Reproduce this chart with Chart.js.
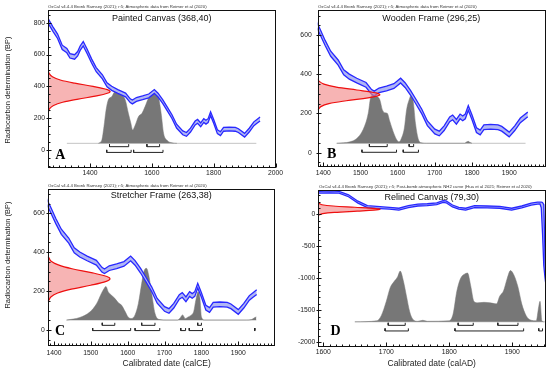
<!DOCTYPE html>
<html>
<head>
<meta charset="utf-8">
<script src="https://cdn.jsdelivr.net/npm/chart.js@4.4.0/dist/chart.umd.min.js"></script>
<style>
  body { margin: 0; background: #fff; width: 550px; height: 374px; position: relative; overflow: hidden; font-family: "Liberation Sans", Arial, sans-serif; }
  canvas { position: absolute; }
  .hdr { position: absolute; font-size: 8.6px; line-height: 1; white-space: nowrap; color: #333; transform-origin: 0 50%; transform: translateY(-50%) scale(0.5); }
  .ttl { position: absolute; font-size: 9px; line-height: 1; white-space: nowrap; color: #111; transform: translate(-50%, -50%); }
  .let { position: absolute; font: bold 14px "Liberation Serif", "Times New Roman", serif; line-height: 1; color: #000; transform: translate(-50%, -50%); }
  .ytl { position: absolute; font-size: 7.5px; line-height: 1; white-space: nowrap; color: #222; transform: translate(-50%, -50%) rotate(-90deg); }
  .xtl { position: absolute; font-size: 8.5px; line-height: 1; white-space: nowrap; color: #222; transform: translate(-50%, -50%); }
</style>
</head>
<body>
<canvas id="cA" width="300" height="182" style="left:0;top:0"></canvas>
<canvas id="cB" width="270" height="182" style="left:280px;top:0"></canvas>
<canvas id="cC" width="300" height="194" style="left:0;top:180px"></canvas>
<canvas id="cD" width="270" height="194" style="left:280px;top:180px"></canvas>

<div class="hdr" style="left:47.7px;top:7px">OxCal v4.4.4 Bronk Ramsey (2021); r:5; Atmospheric data from Reimer et al (2020)</div>
<div class="hdr" style="left:317.7px;top:7px">OxCal v4.4.4 Bronk Ramsey (2021); r:5; Atmospheric data from Reimer et al (2020)</div>
<div class="hdr" style="left:47.7px;top:185.5px">OxCal v4.4.4 Bronk Ramsey (2021); r:5; Atmospheric data from Reimer et al (2020)</div>
<div class="hdr" style="left:319px;top:187px">OxCal v4.4.4 Bronk Ramsey (2021); r:5; Post-bomb atmospheric NH2 curve (Hua et al 2021; Reimer et al 2020)</div>

<div class="ttl" style="left:161.7px;top:17.7px">Painted Canvas (368,40)</div>
<div class="ttl" style="left:431.3px;top:17.7px">Wooden Frame (296,25)</div>
<div class="ttl" style="left:161.3px;top:195px">Stretcher Frame (263,38)</div>
<div class="ttl" style="left:431.7px;top:197.3px">Relined Canvas (79,30)</div>

<div class="let" style="left:60.3px;top:155px">A</div>
<div class="let" style="left:331.7px;top:154px">B</div>
<div class="let" style="left:60px;top:331px">C</div>
<div class="let" style="left:335.5px;top:331px">D</div>

<div class="ytl" style="left:8px;top:90px">Radiocarbon determination (BP)</div>
<div class="ytl" style="left:7.5px;top:255px">Radiocarbon determination (BP)</div>
<div class="xtl" style="left:166.7px;top:363px">Calibrated date (calCE)</div>
<div class="xtl" style="left:431.7px;top:363px">Calibrated date (calAD)</div>

<script>
const calYear = [1255,1265,1280,1295,1310,1325,1335,1350,1360,1368,1378,1390,1405,1420,1440,1455,1470,1490,1515,1530,1537,1550,1570,1590,1608,1620,1635,1650,1665,1680,1700,1712,1725,1740,1748,1758,1768,1775,1782,1790,1800,1812,1822,1832,1850,1870,1880,1900,1915,1930,1940,1950];
const calBP   = [830,810,760,715,645,625,592,585,605,640,668,622,560,505,460,410,388,368,346,310,302,318,328,340,368,345,305,258,210,150,108,98,125,170,180,158,185,175,185,228,180,115,103,130,132,130,122,93,125,165,180,195];
const calErr  = [14,14,14,14,14,14,14,14,14,14,14,14,13,13,13,13,13,12,12,12,12,12,12,12,12,12,12,12,12,12,12,12,12,12,12,12,12,12,12,12,12,12,12,12,12,12,12,12,12,12,12,12];

// post-bomb NH2 curve (panel D), upper and lower edge
const dCalYear = [1592,1610,1625,1640,1655,1670,1690,1705,1720,1735,1750,1765,1780,1790,1795,1805,1815,1826,1840,1860,1880,1899,1915,1930,1940,1944,1946,1948,1950,1951,1952,1954];
const dCalHi   = [360,365,360,305,205,135,120,110,95,135,160,165,180,215,210,145,110,95,135,130,125,95,130,175,190,192,190,185,150,-250,-700,-1100];
const dCalLo   = [330,335,330,275,175,105,90,80,65,105,130,135,150,185,180,115,80,65,105,100,95,65,100,145,160,162,100,-300,-800,-900,-1000,-1150];

// tick labels
const ticksAX = [1400,1600,1800,2000];
const ticksAY = [0,200,400,600,800];
const ticksBX = [1400,1500,1600,1700,1800,1900];
const ticksBY = [0,200,400,600];
const ticksCX = [1400,1500,1600,1700,1800,1900];
const ticksCY = [0,200,400,600];
const ticksDX = [1600,1700,1800,1900];
const ticksDY = [-2000,-1500,-1000,-500,0];

// posterior probability (relative) per sample
const histAYear = [1427,1438,1445,1452,1459,1470,1481,1492,1503,1514,1524,1532,1538,1546,1557,1568,1578,1589,1600,1611,1622,1630,1638,1649,1665,1681];
const histAProb = [0,0.06,0.32,0.65,0.84,0.9,1.0,0.97,0.94,0.84,0.58,0.39,0.26,0.35,0.52,0.58,0.71,0.87,0.94,0.97,0.87,0.58,0.19,0.06,0.01,0];
const histBYear = [1436,1472,1490,1507,1521,1527,1534,1543,1552,1559,1566,1572,1579,1588,1597,1604,1610,1618,1624,1631,1637,1642,1648,1655,1664,1678,1780,1786,1790,1794,1800];
const histBProb = [0,0.03,0.1,0.28,0.62,0.93,1.0,0.97,0.9,0.69,0.63,0.62,0.45,0.24,0.08,0.03,0.1,0.31,0.69,0.9,1.0,0.86,0.41,0.1,0.01,0,0,0.03,0.04,0.02,0];
const histCYear = [1434,1470,1498,1516,1529,1536,1541,1547,1556,1565,1574,1583,1592,1601,1610,1620,1629,1638,1644,1651,1657,1665,1674,1687,1705,1735,1741,1749,1756,1764,1773,1779,1785,1791,1796,1800,1809,1922,1936,1945,1949];
const histCProb = [0,0.05,0.16,0.32,0.52,0.61,0.65,0.55,0.48,0.42,0.34,0.29,0.18,0.06,0.03,0.1,0.32,0.71,0.94,1.0,0.87,0.52,0.13,0.01,0,0,0.03,0.1,0.03,0.06,0.1,0.16,0.39,0.55,0.42,0.06,0,0,0.01,0.05,0.06];
const histDYear = [1650,1685,1692,1700,1706,1712,1718,1722,1727,1732,1737,1742,1750,1758,1765,1800,1806,1812,1818,1824,1829,1834,1839,1845,1855,1865,1875,1880,1886,1892,1897,1903,1909,1915,1922,1930,1938,1942,1944,1947,1950];
const histDProb = [0,0.02,0.12,0.4,0.66,0.78,0.88,0.99,0.8,0.5,0.2,0.05,0.01,0.03,0.01,0.02,0.15,0.6,0.85,0.93,0.95,0.7,0.4,0.37,0.38,0.37,0.35,0.5,0.6,0.85,1.0,0.9,0.68,0.35,0.12,0.03,0.02,0.3,0.4,0.02,0];

// 68.2% and 95.4% ranges (calendar years)
const rangesA68 = [[1463,1525],[1584,1625]];
const rangesA95 = [[1454,1533],[1541,1636]];
const rangesB68 = [[1524,1572],[1631,1643]];
const rangesB95 = [[1504,1597],[1615,1656]];
const rangesC68 = [[1531,1565],[1638,1674],[1790,1800]];
const rangesC95 = [[1505,1608],[1620,1687],[1744,1757],[1767,1803],[1944,1946]];
const rangesD68 = [[1703,1730],[1814,1838],[1877,1909]];
const rangesD95 = [[1698,1735],[1809,1918],[1942,1948]];

// measured radiocarbon age distributions (BP, relative density)
const gaussABP   = [240,260,280,300,320,340,360,368,380,400,420,440,460,480,500];
const gaussADens = [0.006,0.026,0.089,0.236,0.487,0.783,0.98,1,0.956,0.726,0.43,0.198,0.071,0.02,0.004];
const gaussBBP   = [220,235,250,265,280,290,296,305,320,335,350,365,375];
const gaussBDens = [0.01,0.05,0.18,0.46,0.81,0.97,1,0.94,0.63,0.3,0.1,0.02,0.007];
const gaussCBP   = [150,170,190,210,230,250,263,275,295,315,335,355,375];
const gaussCDens = [0.012,0.05,0.16,0.38,0.69,0.94,1,0.95,0.7,0.39,0.17,0.05,0.013];
const gaussDBP   = [-10,10,30,50,65,79,90,110,130,150,170];
const gaussDDens = [0.012,0.07,0.26,0.63,0.9,1,0.93,0.59,0.24,0.06,0.01];

const BLUE = '#2828ff';
const LIGHTBLUE = '#b0b6f4';
const RED = '#ee1010';
const PINK = 'rgba(242,130,130,0.6)';
const GREY = '#777777';

Chart.defaults.font.family = "'Liberation Sans', Arial, sans-serif";

function pts(xs, ys) {
  return xs.map((x, i) => ({ x: x, y: ys[i] }));
}

function bracketPts(ranges, y, tick) {
  const out = [];
  ranges.forEach(([a, b]) => {
    out.push({ x: a, y: y + tick }, { x: a, y: y }, { x: b, y: y }, { x: b, y: y + tick }, { x: b, y: null });
  });
  return out;
}

// box + minor ticks like OxCal
const framePlugin = {
  id: 'frame',
  afterDatasetsDraw(chart, args, o) {
    const { ctx, chartArea: a, scales: { x, y } } = chart;
    const L = Math.round(a.left) + 0.5, R = Math.round(a.right) - 0.5;
    const T = Math.round(a.top) + 0.5, B = Math.round(a.bottom) - 0.5;
    ctx.save();
    ctx.strokeStyle = '#111';
    ctx.lineWidth = 1;
    ctx.strokeRect(L, T, R - L, B - T);
    ctx.beginPath();
    for (let v = Math.ceil(x.min / o.xMinor) * o.xMinor; v <= x.max; v += o.xMinor) {
      const px = Math.round(x.getPixelForValue(v)) + 0.5;
      const major = Math.abs(v % o.xMajor) < 1e-6;
      ctx.moveTo(px, B);
      ctx.lineTo(px, B - (major ? 4 : 2));
    }
    for (let v = Math.ceil(y.min / o.yMinor) * o.yMinor; v <= y.max; v += o.yMinor) {
      const py = Math.round(y.getPixelForValue(v)) + 0.5;
      const major = Math.abs(v % o.yMajor) < 1e-6;
      if (major) {
        ctx.moveTo(L - 2, py);
        ctx.lineTo(L + 3, py);
      } else {
        ctx.moveTo(L, py);
        ctx.lineTo(L + 2, py);
      }
    }
    ctx.stroke();
    ctx.restore();
  }
};

function panel(id, p) {
  const hist = p.histYear.map((x, i) => ({ x: x, y: p.base + p.histProb[i] * p.histH }));
  const gauss = [{ x: p.xMin, y: p.gBP[0] }]
    .concat(p.gBP.map((bp, i) => ({ x: p.xMin + p.gDens[i] * p.gAmp, y: bp })))
    .concat([{ x: p.xMin, y: p.gBP[p.gBP.length - 1] }]);

  const datasets = [
    { data: pts(p.calYear, p.calLo), borderColor: BLUE, borderWidth: 1.3, fill: false, order: 3 },
    { data: pts(p.calYear, p.calHi), borderColor: BLUE, borderWidth: 1.3, fill: '-1', backgroundColor: LIGHTBLUE, order: 3 },
    { data: hist, borderColor: GREY, borderWidth: 0.5, backgroundColor: GREY, fill: { value: p.base }, cubicInterpolationMode: 'monotone', order: 5 },
    { data: [{ x: p.baseStart, y: p.base }, { x: p.baseEnd, y: p.base }], borderColor: '#c4c4c4', borderWidth: 1, order: 6 },
    { data: bracketPts(p.r68, p.row1, p.tick), borderColor: '#222', borderWidth: 1, order: 4 },
    { data: bracketPts(p.r95, p.row2, p.tick), borderColor: '#222', borderWidth: 1, order: 4 },
    { data: gauss, borderColor: RED, borderWidth: 1.2, backgroundColor: PINK, fill: 'shape', tension: 0.35, order: 2 }
  ];

  new Chart(document.getElementById(id), {
    type: 'line',
    data: { datasets: datasets },
    plugins: [framePlugin],
    options: {
      responsive: false,
      animation: false,
      events: [],
      layout: { padding: { left: 0, top: p.padT, right: p.padR, bottom: 0 } },
      elements: { point: { radius: 0 }, line: { tension: 0 } },
      plugins: {
        legend: { display: false },
        tooltip: { enabled: false },
        frame: { xMinor: p.xMinor, xMajor: p.xStep, yMinor: p.yMinor, yMajor: p.yStep }
      },
      scales: {
        x: {
          type: 'linear', min: p.xMin, max: p.xMax,
          afterBuildTicks: s => { s.ticks = p.xTicks.map(v => ({ value: v })); },
          afterFit: s => { s.height = p.xH; },
          grid: { display: false, drawTicks: false },
          border: { display: false },
          ticks: {
            autoSkip: false, maxRotation: 0,
            padding: p.xPad, color: '#222', font: { size: 6.8 },
            callback: v => String(v)
          }
        },
        y: {
          type: 'linear', min: p.yMin, max: p.yMax,
          afterBuildTicks: s => { s.ticks = p.yTicks.map(v => ({ value: v })); },
          afterFit: s => { s.width = p.yW; },
          grid: { display: false, drawTicks: false },
          border: { display: false },
          ticks: {
            autoSkip: false,
            padding: p.yPad, color: '#222', font: { size: 6.8 },
            callback: v => String(v)
          }
        }
      }
    }
  });
}

const calLo = calBP.map((v, i) => v - calErr[i]);
const calHi = calBP.map((v, i) => v + calErr[i]);

panel('cA', {
  xMin: 1264, xMax: 2000, yMin: -113, yMax: 880, xStep: 200, yStep: 200, xMinor: 20, yMinor: 50,
  xTicks: ticksAX, yTicks: ticksAY,
  padT: 10, padR: 24.5, yW: 48, xH: 14, xPad: 1, yPad: 3,
  calYear: calYear, calLo: calLo, calHi: calHi,
  histYear: histAYear, histProb: histAProb, base: 42, histH: 325, baseStart: 1325, baseEnd: 1938,
  r68: rangesA68, r95: rangesA95, row1: 21, row2: -15, tick: 16,
  gBP: gaussABP, gDens: gaussADens, gAmp: 201
});

panel('cB', {
  xMin: 1385, xMax: 1999, yMin: -71.5, yMax: 727.7, xStep: 100, yStep: 200, xMinor: 10, yMinor: 50,
  xTicks: ticksBX, yTicks: ticksBY,
  padT: 10, padR: 4, yW: 37.7, xH: 15.3, xPad: 2, yPad: 6,
  calYear: calYear, calLo: calLo, calHi: calHi,
  histYear: histBYear, histProb: histBProb, base: 48, histH: 247, baseStart: 1436, baseEnd: 1944,
  r68: rangesB68, r95: rangesB95, row1: 31, row2: 2, tick: 13,
  gBP: gaussBBP, gDens: gaussBDens, gAmp: 167
});

panel('cC', {
  xMin: 1383, xMax: 1999.6, yMin: -80.7, yMax: 725, xStep: 100, yStep: 200, xMinor: 10, yMinor: 50,
  xTicks: ticksCX, yTicks: ticksCY,
  padT: 9, padR: 25, yW: 47.7, xH: 28.3, xPad: 3, yPad: 3,
  calYear: calYear, calLo: calLo, calHi: calHi,
  histYear: histCYear, histProb: histCProb, base: 51, histH: 266, baseStart: 1434, baseEnd: 1949,
  r68: rangesC68, r95: rangesC95, row1: 24, row2: -3, tick: 13,
  gBP: gaussCBP, gDens: gaussCDens, gAmp: 169
});

panel('cD', {
  xMin: 1592, xMax: 1953.5, yMin: -2069, yMax: 380, xStep: 100, yStep: 500, xMinor: 10, yMinor: 100,
  xTicks: ticksDX, yTicks: ticksDY,
  padT: 10, padR: 4, yW: 38.3, xH: 27.3, xPad: 1, yPad: 3,
  calYear: dCalYear, calLo: dCalLo, calHi: dCalHi,
  histYear: histDYear, histProb: histDProb, base: -1680, histH: 801, baseStart: 1650, baseEnd: 1952,
  r68: rangesD68, r95: rangesD95, row1: -1735, row2: -1823, tick: 40,
  gBP: gaussDBP, gDens: gaussDDens, gAmp: 98
});
</script>
</body>
</html>
